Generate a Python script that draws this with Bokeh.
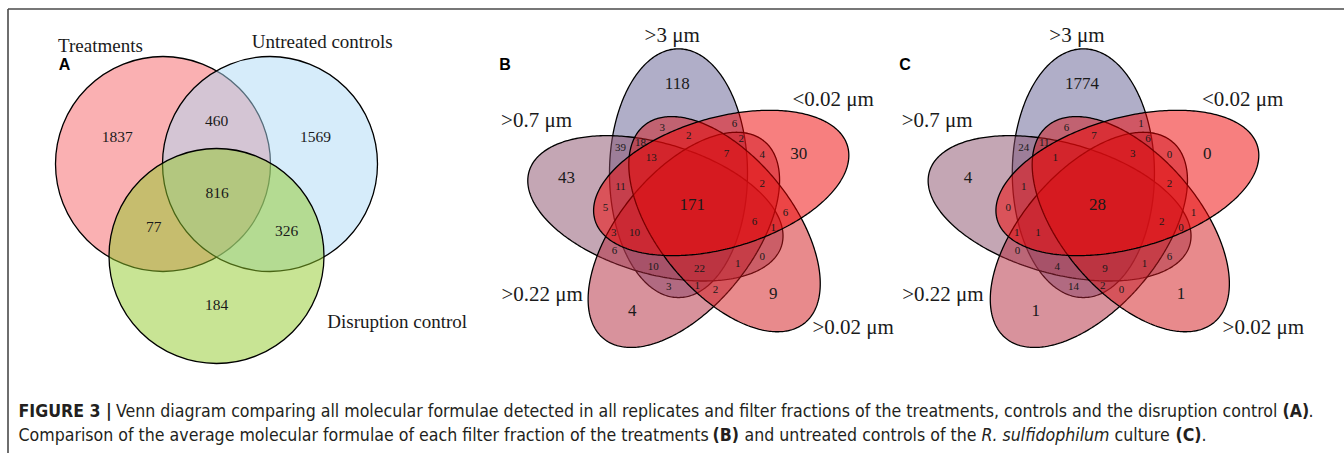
import numpy as np
from bokeh.plotting import figure
from bokeh.models import Range1d
from bokeh.core.properties import value
from bokeh.embed import file_html
from bokeh.resources import INLINE

# ---------------- data ----------------
# Panel A: three-set Venn diagram
a_sets = ["Treatments", "Untreated controls", "Disruption control"]
a_regions = ["Treatments only", "Treatments & Untreated", "Untreated only", "All three",
             "Treatments & Disruption", "Untreated & Disruption", "Disruption only"]
a_counts = [1837, 460, 1569, 816, 77, 326, 184]

# Panels B and C: five-set Venn diagrams of the filter fractions
fractions = [">3 μm", "<0.02 μm", ">0.02 μm", ">0.22 μm", ">0.7 μm"]
region_ids = ["R%02d" % i for i in range(1, 32)]
b_counts = [118, 30, 9, 4, 43, 171, 3, 6, 2, 2, 39, 18, 13, 7, 4, 11, 2, 5,
            6, 6, 1, 3, 10, 6, 0, 1, 10, 22, 3, 1, 2]
c_counts = [1774, 0, 1, 1, 4, 28, 6, 1, 7, 6, 24, 11, 1, 3, 0, 1, 2, 0,
            1, 2, 0, 1, 1, 0, 6, 1, 4, 9, 14, 2, 0]

caption_line1 = [("FIGURE 3 |", "bold"),
                 ("Venn diagram comparing all molecular formulae detected in all replicates and filter fractions of the treatments, controls and the disruption control", "normal"),
                 ("(A)", "bold"), (".", "normal")]
caption_line2 = [("Comparison of the average molecular formulae of each filter fraction of the treatments", "normal"),
                 ("(B)", "bold"), ("and untreated controls of the", "normal"),
                 ("R. sulfidophilum", "italic"), ("culture", "normal"),
                 ("(C)", "bold"), (".", "normal")]

# ---------------- layout (pixels) ----------------
W, H = 1344, 453
SERIF = value("Liberation Serif")
SANS = value("Liberation Sans")
NARROW = value("'DejaVu Sans Condensed', 'Noto Sans Condensed', 'Roboto Condensed', 'Liberation Sans'")
INK = "#1a1a1a"

a_cx = [162.5, 269.5, 216.0]
a_cy = [163.5, 163.5, 255.5]
a_r = 107.5
a_colors = ["#f56165", "#addaf5", "#91c929"]
a_label_x = [116.7, 216.0, 315.0, 216.7, 153.3, 286.0, 216.0]
a_label_y = [136.7, 120.7, 136.0, 192.7, 226.7, 230.0, 304.0]
a_set_x = [100.0, 321.7, 396.7]
a_set_y = [45.0, 41.0, 320.7]

# five-set geometry (model units, y pointing down)
E_A, E_B = 69.0, 132.3
E_D = (-14.2, -34.6)
SY = 0.94
f_colors = ["#625e92", "#f00000", "#d2161a", "#b2263a", "#8a4e6a"]  # top, UR, LR, LL, UL
draw_order = [0, 4, 3, 2, 1]
rel_x = [-15.5, 106.1, 80.5, -60.5, -126.2, -0.5, -30.5, 41.8, -3.9, 48.5, -72.2,
         -52.2, -41.5, 33.8, 69.5, -72.2, 69.5, -87.2, 92.8, 61.8, 80.5, -78.9,
         -58.2, -78.2, 69.5, 45.1, -39.5, 6.8, -23.9, 4.5, 22.8]
rel_y = [-121.9, -51.9, 88.1, 104.8, -28.5, -1.2, -78.5, -82.5, -70.2, -66.9, -58.5,
         -63.5, -47.9, -52.5, -50.9, -19.2, -22.5, 1.5, 6.5, 15.5, 21.5, 26.5,
         27.1, 44.8, 50.8, 58.1, 60.5, 63.1, 80.8, 79.8, 84.1]
n_big = 6
set_rel_x = [-20.5, 140.5, 160.5, -150.5, -156.2]
set_rel_y = [-170.9, -106.9, 121.5, 88.1, -86.2]
panels = [dict(cx=692.2, cy=205.2, sx=1.0, counts=b_counts, letter="B", lx=504.5),
          dict(cx=1097.5, cy=205.2, sx=1.03, counts=c_counts, letter="C", lx=904.5)]

p = figure(width=W, height=H, x_range=Range1d(0, W), y_range=Range1d(H, 0),
           output_backend="svg", toolbar_location=None, min_border=0)
p.axis.visible = False
p.grid.visible = False
p.outline_line_color = None
p.background_fill_color = "white"
p.border_fill_color = "white"

# frame
p.segment(x0=[7.5, 7.5], y0=[8.5, 8.5], x1=[W, 7.5], y1=[8.5, H],
          line_color="#4a4a4a", line_width=1.6)

# ---- panel A ----
for i in range(3):
    p.circle(x=[a_cx[i]], y=[a_cy[i]], radius=a_r, fill_color=a_colors[i],
             fill_alpha=0.5, line_color="black", line_width=1.3)
p.text(x=a_label_x, y=a_label_y, text=[str(v) for v in a_counts], text_font=SERIF,
       text_font_size="15.5px", text_align="center", text_baseline="middle", text_color=INK)
p.text(x=a_set_x, y=a_set_y, text=a_sets, text_font=SERIF, text_font_size="19px",
       text_align="center", text_baseline="middle", text_color=INK)
p.text(x=[64], y=[64], text=["A"], text_font=SANS, text_font_style="bold",
       text_font_size="16px", text_align="center", text_baseline="middle", text_color="black")

# ---- panels B, C ----
t = np.linspace(0, 2 * np.pi, 361)
for pan in panels:
    for k in draw_order:
        phi = np.radians(72 * k)
        c, s = np.cos(phi), np.sin(phi)
        ox = E_D[0] * c - E_D[1] * s
        oy = E_D[0] * s + E_D[1] * c
        ex, ey = E_A * np.cos(t), E_B * np.sin(t)
        x = ox + ex * c - ey * s
        y = oy + ex * s + ey * c
        p.patch(x=pan["cx"] + pan["sx"] * x, y=pan["cy"] + SY * y,
                fill_color=f_colors[k], fill_alpha=0.5, line_color="black", line_width=1.3)
    xs = [pan["cx"] + pan["sx"] * rx for rx in rel_x]
    ys = [pan["cy"] + ry for ry in rel_y]
    lab = [str(v) for v in pan["counts"]]
    p.text(x=xs[:n_big], y=ys[:n_big], text=lab[:n_big], text_font=SERIF,
           text_font_size="17px", text_align="center", text_baseline="middle", text_color=INK)
    p.text(x=xs[n_big:], y=ys[n_big:], text=lab[n_big:], text_font=SERIF,
           text_font_size="11px", text_align="center", text_baseline="middle", text_color=INK)
    p.text(x=[pan["cx"] + pan["sx"] * rx for rx in set_rel_x],
           y=[pan["cy"] + ry for ry in set_rel_y], text=fractions, text_font=SERIF,
           text_font_size="21px", text_align="center", text_baseline="middle", text_color=INK)
    p.text(x=[pan["lx"]], y=[64], text=[pan["letter"]], text_font=SANS, text_font_style="bold",
           text_font_size="16px", text_align="center", text_baseline="middle", text_color="black")

# ---- caption ----
line1_x = [18, 115.5, 1282, 1308]
line2_x = [18, 712, 744, 981, 1114, 1175, 1201]
for segs, xs_, yy in ((caption_line1, line1_x, 410), (caption_line2, line2_x, 434)):
    for (txt, sty), xx in zip(segs, xs_):
        p.text(x=[xx], y=[yy], text=[txt], text_font=NARROW, text_font_style=sty,
               text_font_size="17.6px", text_align="left", text_baseline="middle",
               text_color="#231f20")

open("out.html", "w").write(file_html(p, INLINE))
